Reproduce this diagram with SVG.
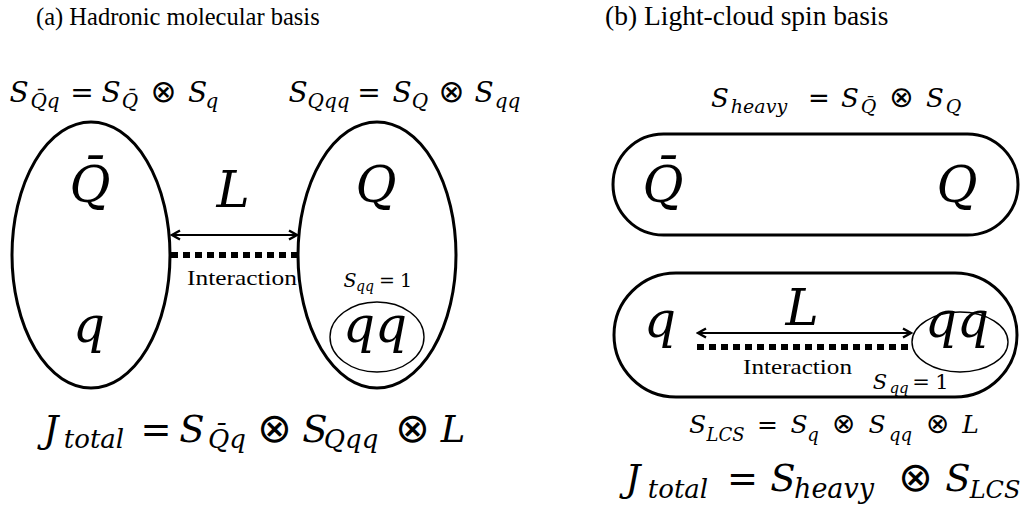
<svg xmlns="http://www.w3.org/2000/svg" width="1027" height="510" viewBox="0 0 1027 510">
<style>
.t{font-family:"Liberation Serif","Times New Roman",serif;fill:#000}
.m{font-family:"DejaVu Serif",serif;font-style:italic;fill:#000;text-anchor:middle}
.o{font-family:"DejaVu Sans",sans-serif;font-style:normal;fill:#000;text-anchor:middle}
.cm{font-family:"DejaVu Serif",serif;fill:#000;text-anchor:middle}
.shape{fill:none;stroke:#000;stroke-width:3}
.thin{fill:none;stroke:#000;stroke-width:1.4}
.arrow{stroke:#000;stroke-width:2;fill:none}
.dash{stroke:#000;stroke-width:6;stroke-dasharray:7 5;fill:none}
</style>
<defs>
<marker id="ah" markerWidth="12" markerHeight="12" refX="10" refY="6" orient="auto-start-reverse" markerUnits="userSpaceOnUse">
<path d="M2,1.5 L10,6 L2,10.5" fill="none" stroke="#000" stroke-width="2.4"/>
</marker>
</defs>
<rect width="1027" height="510" fill="#fff"/>

<!-- titles -->
<text class="t" x="36" y="25" font-size="24.5">(a) Hadronic molecular basis</text>
<text class="t" x="605" y="25" font-size="27.5">(b) Light-cloud spin basis</text>

<!-- panel (a) formulas -->
<g id="f-sqbarq">
<text class="m" x="19" y="102" font-size="28">S</text>
<text class="m" x="45" y="108" font-size="20">Q&#x304;q</text>
<text class="o" x="82" y="102" font-size="28">=</text>
<text class="m" x="111" y="102" font-size="28">S</text>
<text class="m" x="130" y="108" font-size="20">Q&#x304;</text>
<text class="o" x="163.5" y="102" font-size="31">⊗</text>
<text class="m" x="197.5" y="102" font-size="28">S</text>
<text class="m" x="212" y="108" font-size="20">q</text>
</g>
<g id="f-sqqq">
<text class="m" x="298" y="102" font-size="28">S</text>
<text class="m" x="328.5" y="108" font-size="20">Qqq</text>
<text class="o" x="369" y="102" font-size="28">=</text>
<text class="m" x="402" y="102" font-size="28">S</text>
<text class="m" x="420" y="108" font-size="20">Q</text>
<text class="o" x="451.5" y="102" font-size="31">⊗</text>
<text class="m" x="484" y="102" font-size="28">S</text>
<text class="m" x="507.5" y="108" font-size="20">qq</text>
</g>

<g id="node-qbar-q">
<ellipse class="shape" cx="91" cy="255" rx="79" ry="133"/>
<text class="m" x="90" y="202" font-size="50">Q&#x304;</text>
<text class="m" x="89" y="342" font-size="50">q</text>
</g>
<g id="node-Q-qq">
<ellipse class="shape" cx="377" cy="255" rx="79" ry="133"/>
<text class="m" x="376" y="202" font-size="50">Q</text>
<text class="m" x="350" y="287" font-size="19">S</text>
<text class="m" x="365" y="291" font-size="14">qq</text>
<text class="cm" x="387" y="287" font-size="19">=</text>
<text class="cm" x="406" y="287" font-size="19">1</text>
</g>
<g id="node-qq-a">
<ellipse class="thin" cx="377" cy="337" rx="47" ry="35"/>
<text class="m" x="375" y="342" font-size="50">qq</text>
</g>

<g id="connectors-a">
<line class="arrow" x1="172" y1="235" x2="297" y2="235" marker-start="url(#ah)" marker-end="url(#ah)"/>
<line class="dash" x1="171" y1="255" x2="298" y2="255"/>
<text class="m" x="233" y="207" font-size="50">L</text>
<text class="t" x="187" y="285" font-size="21" textLength="110" lengthAdjust="spacingAndGlyphs">Interaction</text>
</g>

<g id="f-jtotal-a">
<text class="m" x="51" y="442" font-size="37">J</text>
<text class="m" x="94" y="448" font-size="26">total</text>
<text class="o" x="156" y="442" font-size="37">=</text>
<text class="m" x="192" y="442" font-size="37">S</text>
<text class="m" x="227" y="448" font-size="26">Q&#x304;q</text>
<text class="o" x="274.5" y="442" font-size="41">⊗</text>
<text class="m" x="315" y="442" font-size="37">S</text>
<text class="m" x="351" y="448" font-size="26">Qqq</text>
<text class="o" x="412.5" y="442" font-size="41">⊗</text>
<text class="m" x="453" y="442" font-size="37">L</text>
</g>

<!-- panel (b) -->
<g id="f-sheavy">
<text class="m" x="720" y="107" font-size="26">S</text>
<text class="m" x="759" y="113" font-size="19">heavy</text>
<text class="o" x="819" y="107" font-size="26">=</text>
<text class="m" x="850" y="107" font-size="26">S</text>
<text class="m" x="868.5" y="113" font-size="19">Q&#x304;</text>
<text class="o" x="901.5" y="107" font-size="29">⊗</text>
<text class="m" x="935" y="107" font-size="26">S</text>
<text class="m" x="953.5" y="113" font-size="19">Q</text>
</g>

<g id="node-heavy">
<rect class="shape" x="613" y="134" width="405" height="101" rx="50.5"/>
<text class="m" x="663" y="202" font-size="50">Q&#x304;</text>
<text class="m" x="957" y="202" font-size="50">Q</text>
</g>

<g id="node-lcs">
<rect class="shape" x="614" y="273" width="403" height="124" rx="62"/>
<text class="m" x="660" y="337" font-size="50">q</text>
<text class="m" x="880" y="389" font-size="21">S</text>
<text class="m" x="899" y="393" font-size="15">qq</text>
<text class="cm" x="921" y="389" font-size="21">=</text>
<text class="cm" x="942" y="389" font-size="21">1</text>
</g>
<g id="node-qq-b">
<ellipse class="thin" cx="960" cy="342" rx="48" ry="30"/>
<text class="m" x="957" y="337" font-size="50">qq</text>
</g>

<g id="connectors-b">
<line class="arrow" x1="698" y1="333" x2="911" y2="333" marker-start="url(#ah)" marker-end="url(#ah)"/>
<line class="dash" x1="697" y1="347" x2="912" y2="347"/>
<text class="m" x="802" y="325" font-size="50">L</text>
<text class="t" x="743" y="374" font-size="21" textLength="109" lengthAdjust="spacingAndGlyphs">Interaction</text>
</g>

<g id="f-slcs">
<text class="m" x="697.5" y="433" font-size="25">S</text>
<text class="m" x="725.5" y="441" font-size="18">LCS</text>
<text class="o" x="767.5" y="433" font-size="25">=</text>
<text class="m" x="799" y="433" font-size="25">S</text>
<text class="m" x="813" y="441" font-size="18">q</text>
<text class="o" x="843.5" y="433" font-size="28">⊗</text>
<text class="m" x="877" y="433" font-size="25">S</text>
<text class="m" x="900.5" y="441" font-size="18">qq</text>
<text class="o" x="937.5" y="433" font-size="28">⊗</text>
<text class="m" x="970.5" y="433" font-size="25">L</text>
</g>

<g id="f-jtotal-b">
<text class="m" x="633" y="491" font-size="37">J</text>
<text class="m" x="678" y="498" font-size="26">total</text>
<text class="o" x="742.5" y="491" font-size="37">=</text>
<text class="m" x="783" y="491" font-size="37">S</text>
<text class="m" x="834" y="498" font-size="27">heavy</text>
<text class="o" x="915.5" y="491" font-size="41">⊗</text>
<text class="m" x="958" y="491" font-size="37">S</text>
<text class="m" x="995" y="498" font-size="24">LCS</text>
</g>
</svg>
